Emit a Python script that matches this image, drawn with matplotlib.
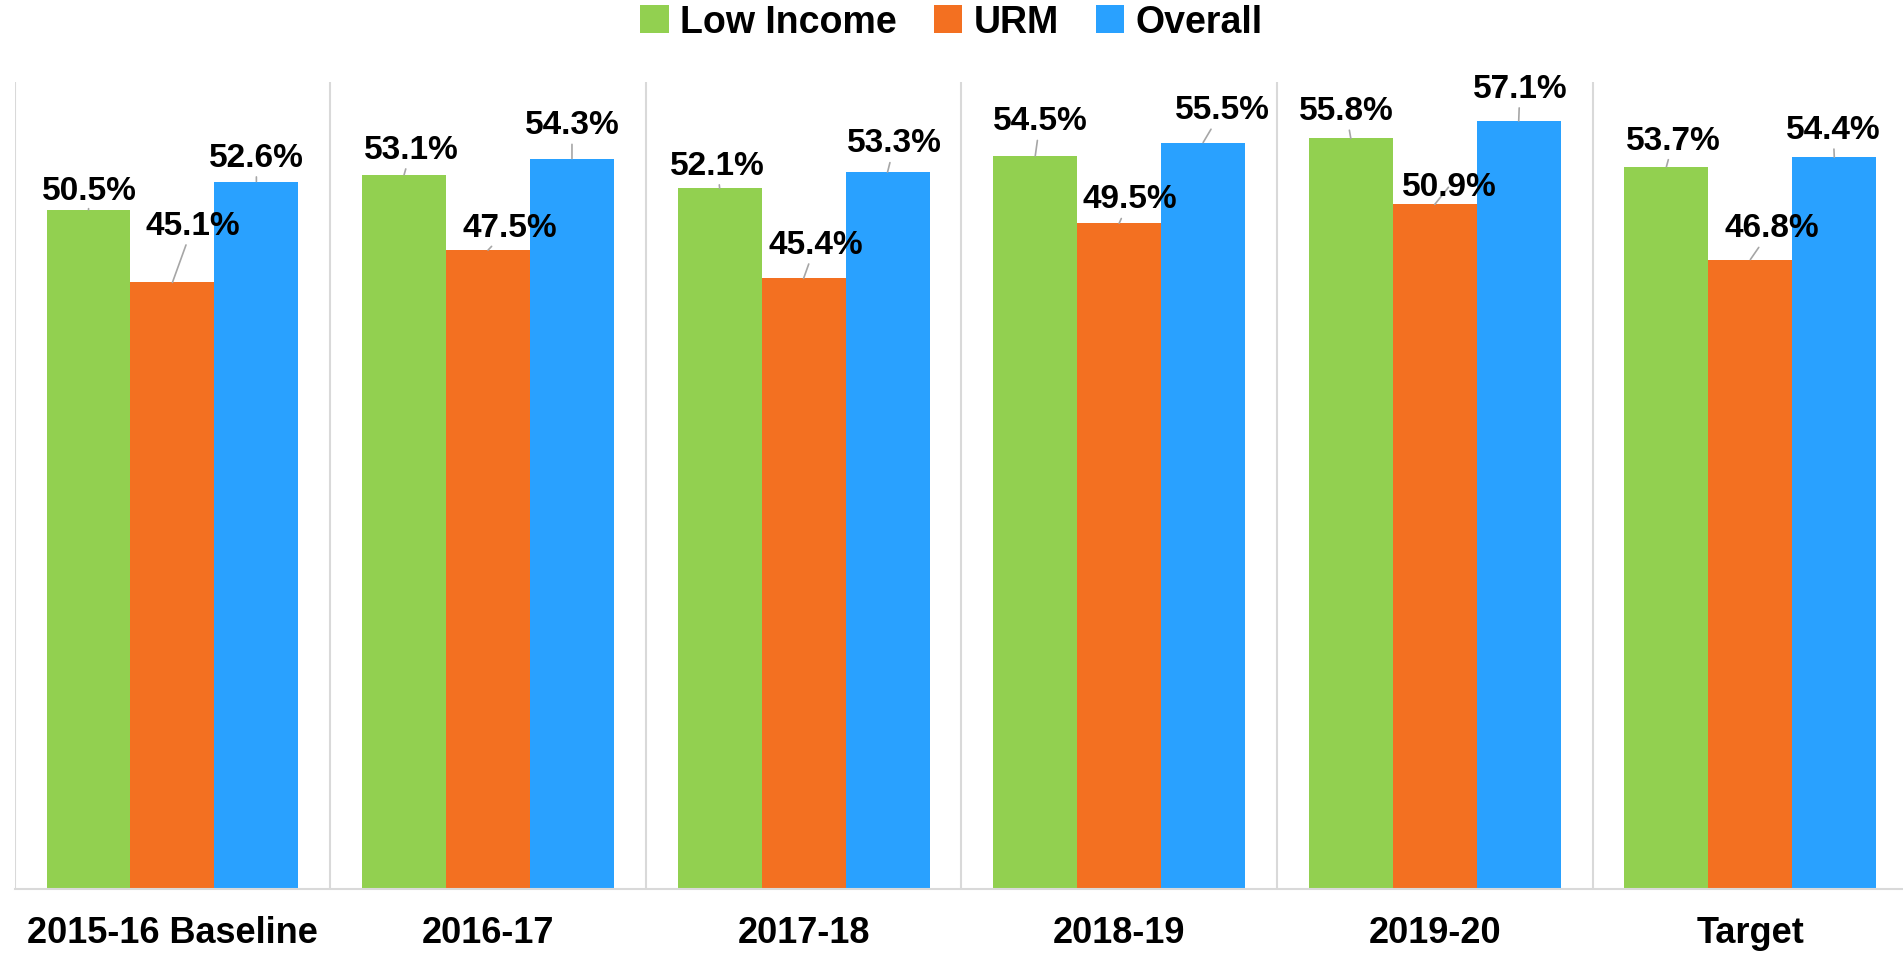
import matplotlib.pyplot as plt
import numpy as np

plt.rcParams['font.family'] = ['Liberation Sans', 'DejaVu Sans']
plt.rcParams['font.weight'] = 'bold'

# data
categories = ['2015-16 Baseline', '2016-17', '2017-18', '2018-19', '2019-20', 'Target']
low_income = [50.5, 53.1, 52.1, 54.5, 55.8, 53.7]
urm = [45.1, 47.5, 45.4, 49.5, 50.9, 46.8]
overall = [52.6, 54.3, 53.3, 55.5, 57.1, 54.4]

series = [('Low Income', low_income, '#92D050'),
          ('URM', urm, '#F37021'),
          ('Overall', overall, '#29A1FF')]

# label offsets from bar top (points), like the moved Excel labels
offsets = [
    [(1, 16), (6, 21), (-2, 19), (4, 29), (-4, 23), (6, 22)],
    [(17, 47), (18, 19), (10, 28), (9, 20), (12, 15), (18, 26)],
    [(0, 20), (0, 28), (6, 24), (16, 27), (1, 27), (-1, 23)],
]

fig = plt.figure(figsize=(19.03, 9.54), dpi=100)
# the plot area runs a little past the right edge of the picture
ax = fig.add_axes([0.0077, 0.067, 0.995, 0.846])

x = np.arange(len(categories))
w = 0.266
for i, (name, vals, col) in enumerate(series):
    xs = x + (i - 1) * w
    ax.bar(xs, vals, w, color=col, label=name)
    for j, (xx, v) in enumerate(zip(xs, vals)):
        dx, dy = offsets[i][j]
        ax.annotate(f'{v:.1f}%', xy=(xx, v), xytext=(dx * 0.874, dy * 0.874),
                    textcoords='offset points', ha='center', va='center',
                    fontsize=24, fontweight='bold', annotation_clip=False,
                    arrowprops=dict(arrowstyle='-', color='#A6A6A6', lw=1.2,
                                    shrinkA=1, shrinkB=0))

ax.set_xlim(-0.5, len(categories) - 0.5)
ax.set_ylim(0, 60)
for b in np.arange(-0.5, len(categories), 1.0):
    ax.axvline(b, color='#D9D9D9', lw=1.5, zorder=0)

for s in ['top', 'right', 'left']:
    ax.spines[s].set_visible(False)
ax.spines['bottom'].set_color('#D9D9D9')
ax.spines['bottom'].set_linewidth(1.5)
ax.set_yticks([])
ax.set_xticks(x)
ax.set_xticklabels(categories, fontsize=26, fontweight='bold')
ax.tick_params(axis='x', length=0, pad=19)

fig.legend(loc='upper center', bbox_to_anchor=(0.5, 1.03), ncol=3, frameon=False,
           prop={'size': 27, 'weight': 'bold'}, handlelength=0.75, handleheight=0.75,
           handletextpad=0.3, columnspacing=1.0)

fig.savefig('out.png', dpi=100)
